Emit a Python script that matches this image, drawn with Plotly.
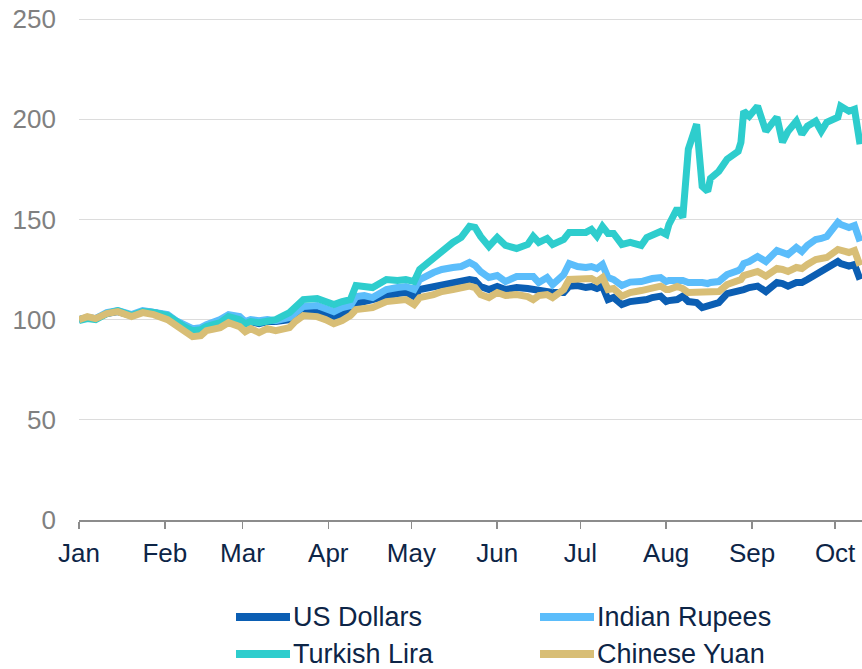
import plotly.graph_objects as go

dates = [
    "2018-01-01", "2018-01-04", "2018-01-07", "2018-01-11", "2018-01-15", "2018-01-18",
    "2018-01-20", "2018-01-24", "2018-01-28", "2018-02-02", "2018-02-05", "2018-02-08",
    "2018-02-11", "2018-02-14", "2018-02-16", "2018-02-21", "2018-02-24", "2018-02-28",
    "2018-03-02", "2018-03-04", "2018-03-07", "2018-03-10", "2018-03-13", "2018-03-18",
    "2018-03-20", "2018-03-23", "2018-03-28", "2018-03-31", "2018-04-03", "2018-04-06",
    "2018-04-09", "2018-04-11", "2018-04-14", "2018-04-17", "2018-04-22", "2018-04-26",
    "2018-04-29", "2018-05-02", "2018-05-04", "2018-05-09", "2018-05-12", "2018-05-16",
    "2018-05-19", "2018-05-22", "2018-05-24", "2018-05-26", "2018-05-29", "2018-06-01",
    "2018-06-04", "2018-06-08", "2018-06-12", "2018-06-14", "2018-06-16", "2018-06-19",
    "2018-06-21", "2018-06-25", "2018-06-27", "2018-06-30", "2018-07-03", "2018-07-05",
    "2018-07-07", "2018-07-09", "2018-07-11", "2018-07-13", "2018-07-16", "2018-07-19",
    "2018-07-23", "2018-07-25", "2018-07-27", "2018-07-30", "2018-08-01", "2018-08-02",
    "2018-08-05", "2018-08-07", "2018-08-09", "2018-08-12", "2018-08-14", "2018-08-16",
    "2018-08-17", "2018-08-20", "2018-08-23", "2018-08-27", "2018-08-28", "2018-08-29",
    "2018-08-31", "2018-09-03", "2018-09-06", "2018-09-10", "2018-09-12", "2018-09-14",
    "2018-09-17", "2018-09-19", "2018-09-21", "2018-09-24", "2018-09-26", "2018-09-28",
    "2018-10-02", "2018-10-03", "2018-10-06", "2018-10-08", "2018-10-10",
]

us_dollars = [
    100, 101, 100.5, 103, 104, 103, 102, 104, 103.5, 102, 99, 96.5,
    95, 95.5, 97, 99, 101.5, 100.5, 98, 99, 98, 99, 99, 100,
    102, 104, 103.5, 102.5, 101.5, 102.5, 104, 108, 109, 110, 112.5, 113,
    113.5, 111.5, 115, 116.5, 117.5, 118.5, 119, 120, 119.5, 116.5, 115, 116.5,
    115, 116, 115.5, 115, 114, 114, 113.5, 113.5, 116.7, 117, 116, 116.5,
    115.5, 116.7, 110, 111, 107.5, 109, 109.5, 110, 111, 111.7, 109, 109.5,
    110, 111.7, 109, 108.5, 106, 107, 107.5, 108.5, 113, 114, 114.5, 115,
    116, 116.7, 114, 118.5, 118, 116.7, 118.5, 118.5, 120, 122.5, 123.5, 125,
    129, 128, 126.7, 127.5, 120,
]

indian_rupees = [
    100, 101, 100.5, 103.5, 104.5, 103.5, 102.5, 104.5, 104, 102.5, 99.5, 97,
    95.5, 96, 97.5, 100, 102.5, 101.5, 99, 100, 99.5, 100, 99.5, 101,
    103, 106.5, 107, 105.5, 104, 106, 107, 111.5, 112, 111, 115, 116,
    116.5, 115, 120, 123.5, 125, 126, 126.5, 128.5, 127, 124, 121, 122,
    119, 121.5, 121, 121.5, 118.5, 121, 117.5, 122.5, 128, 126.5, 126, 126.5,
    125.5, 127.5, 121, 120, 117, 118.7, 119, 120, 120.5, 121, 119, 119.5,
    120, 119.5, 118.5, 119, 118.5, 118, 118.5, 119, 122.5, 124.5, 125.5, 128,
    129, 131.5, 129, 134.5, 133.5, 132.5, 136, 134, 137, 140, 140.5, 141.5,
    148.5, 147.5, 146, 147, 139,
]

turkish_lira = [
    99.5, 100.5, 100, 103, 104.5, 103, 102, 104, 103.5, 102, 99, 96.5,
    94.5, 95, 96.5, 98.5, 101.5, 100, 98, 99, 98.5, 99.5, 100, 103.5,
    106, 110, 110.5, 109, 107.5, 109, 110, 117, 116.5, 116, 120, 119.5,
    120, 119, 125, 131, 134, 138.5, 141, 146.5, 146, 141.5, 136.5, 141,
    137, 135.5, 137.5, 141.5, 138.5, 140.5, 137.5, 140, 143.5, 143.5, 143.5, 145,
    141.7, 146.5, 143, 143, 137.5, 138.5, 137, 141, 142.5, 144, 142.5, 147.5,
    155.5, 151, 185, 197.5, 166.5, 164, 170.5, 174, 180, 184, 188.5, 204,
    201.5, 206.5, 194, 201, 188.5, 194, 199, 192.5, 196.5, 199, 194, 198.5,
    201, 206.5, 204, 205, 187.5,
]

chinese_yuan = [
    100, 101.5, 100.5, 103, 104, 102.5, 101.5, 103.5, 102.5, 100, 97.5, 94,
    91.5, 92, 94.5, 96, 98.5, 96.5, 94, 95.5, 93.5, 95.5, 94.5, 96,
    99, 102, 101.5, 100, 98, 99.5, 102, 105, 105.5, 106, 109, 109.5,
    110, 107.5, 111, 112.5, 114, 115, 116, 116.7, 116, 112.5, 111, 113.5,
    112, 112.5, 111.5, 110, 112, 112.5, 111, 115, 120, 120, 120, 120.5,
    119, 121, 115, 115.5, 111.7, 113.5, 114.5, 115, 115.5, 116.7, 115, 115,
    116.5, 115.5, 113.5, 113.5, 113.5, 113.5, 114, 114, 117.5, 119.5, 120, 122,
    122.5, 124, 121.7, 125.5, 125, 124, 126, 125.5, 127.5, 130, 130.5, 131,
    135, 134.5, 133.5, 134.5, 127,
]

series_names = ["US Dollars", "Indian Rupees", "Turkish Lira", "Chinese Yuan"]
series_values = [us_dollars, indian_rupees, turkish_lira, chinese_yuan]
series_colors = ["#0b5eb3", "#5bbdfb", "#2ecdcd", "#d8be76"]

month_ticks = ["2018-01-01", "2018-02-01", "2018-03-01", "2018-04-01", "2018-05-01",
               "2018-06-01", "2018-07-01", "2018-08-01", "2018-09-01", "2018-10-01"]
month_labels = ["Jan", "Feb", "Mar", "Apr", "May", "Jun", "Jul", "Aug", "Sep", "Oct"]
y_ticks = [0, 50, 100, 150, 200, 250]

FONT = "Liberation Sans, Arial, sans-serif"
TEXT_DARK = "#0d2547"

fig = go.Figure()
for name, vals, col in zip(series_names, series_values, series_colors):
    fig.add_trace(go.Scatter(
        x=dates, y=vals, name=name, mode="lines",
        line=dict(color=col, width=7),
        showlegend=False,
    ))

# Manual legend (2 columns x 2 rows) below the plot, in paper coordinates.
# Plot area spans x 79..862, y 14..520 in page pixels.
W, H = 783.0, 506.0
L_PAGE, B_PAGE = 79.0, 520.0
def px_x(p):
    return (p - L_PAGE) / W
def px_y(p):
    return (B_PAGE - p) / H

legend_slots = [(233, 617), (537, 617), (233, 654), (537, 654)]
for (lx, ly), name, col in zip(legend_slots, series_names, series_colors):
    fig.add_shape(type="line", xref="paper", yref="paper",
                  x0=px_x(lx + 3), x1=px_x(lx + 57), y0=px_y(ly), y1=px_y(ly),
                  line=dict(color=col, width=8))
    fig.add_annotation(xref="paper", yref="paper", x=px_x(lx + 59), y=px_y(ly),
                       text=name, showarrow=False, xanchor="left", yanchor="middle",
                       font=dict(size=27, color=TEXT_DARK, family=FONT), borderpad=0)

fig.update_layout(
    width=862, height=669,
    margin=dict(l=79, r=0, t=14, b=149, autoexpand=False),
    paper_bgcolor="white", plot_bgcolor="white",
    font=dict(family=FONT),
    showlegend=False,
    hovermode=False,
    xaxis=dict(
        type="date",
        range=["2018-01-01", "2018-10-10 17:00"],
        tickmode="array", tickvals=month_ticks, ticktext=month_labels,
        ticks="outside", ticklen=7, tickcolor="#8c8c8c", tickwidth=1.5,
        showline=True, linecolor="#8c8c8c", linewidth=1.5,
        showgrid=False, zeroline=False,
        tickfont=dict(size=26, color=TEXT_DARK, family=FONT),
        ticklabelstandoff=2,
        ticklabeloverflow="allow",
        automargin=False,
    ),
    yaxis=dict(
        range=[0, 252.5],
        tickmode="array", tickvals=y_ticks,
        showgrid=True, gridcolor="#dcdcdc", gridwidth=1,
        zeroline=False, showline=False, ticks="",
        tickfont=dict(size=26, color="#808080", family=FONT),
        ticklabelstandoff=22,
        ticklabeloverflow="allow",
        automargin=False,
    ),
)

fig.write_html(
    "out.html",
    config={"displayModeBar": False, "staticPlot": True},
    post_script="document.body.style.margin='0';document.body.style.overflow='hidden';",
)
